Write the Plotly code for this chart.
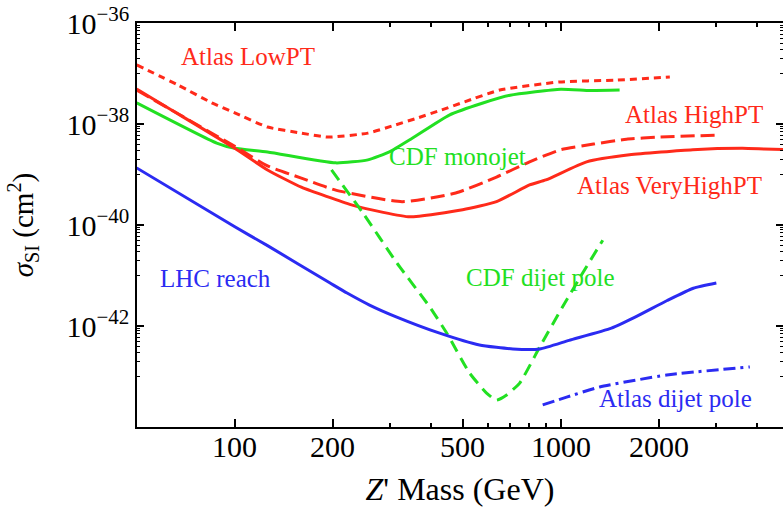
import numpy as np
import plotly.graph_objects as go

RED = "#ff2a1a"
GREEN = "#22e022"
BLUE = "#2b2bf2"
FONT = "'Liberation Serif', 'Times New Roman', serif"

# Z' mass (GeV) and spin-independent cross section (cm^2) for each curve
lowpt_mass = [50, 67, 85, 100, 126, 160, 193, 256, 303, 364, 431, 507, 650, 990, 1480, 2160]
lowpt_sigma = [1.48e-37, 5.9e-38, 2.63e-38, 1.66e-38, 8.7e-39, 6.6e-39, 5.5e-39, 6.6e-39,
               9.1e-39, 1.32e-38, 1.9e-38, 2.75e-38, 4.7e-38, 6.8e-38, 7.4e-38, 8.5e-38]

highpt_mass = [50, 100, 126, 160, 204, 326, 476, 635, 802, 1000, 1260, 1590, 2000, 3000]
highpt_sigma = [4.7e-38, 3.6e-39, 1.48e-39, 8.5e-40, 4.9e-40, 2.9e-40, 4.3e-40, 8.9e-40,
                1.78e-39, 3.1e-39, 4.0e-39, 5.0e-39, 5.5e-39, 6.0e-39]

veryhighpt_mass = [50, 67, 100, 126, 160, 228, 283, 344, 500, 635, 802, 900, 1200, 1625,
                   2540, 3610, 4200, 5000]
veryhighpt_sigma = [4.9e-38, 1.58e-38, 3.3e-39, 1.23e-39, 5.6e-40, 2.5e-40, 1.8e-40, 1.45e-40,
                    2.0e-40, 2.9e-40, 6.2e-40, 7.8e-40, 1.78e-39, 2.45e-39, 3.1e-39, 3.3e-39,
                    3.2e-39, 3.1e-39]

monojet_mass = [50, 88, 100, 126, 204, 256, 298, 350, 455, 577, 699, 1000, 1230, 1515]
monojet_sigma = [2.63e-38, 4.2e-39, 3.3e-39, 2.8e-39, 1.7e-39, 1.95e-39, 2.8e-39, 5.2e-39,
                 1.5e-38, 2.6e-38, 3.7e-38, 4.9e-38, 4.6e-38, 4.7e-38]

cdf_dijet_mass = [198, 247, 314, 396, 447, 525, 592, 635, 682, 748, 861, 1013, 1167, 1345]
cdf_dijet_sigma = [1.23e-39, 1.74e-40, 1.78e-41, 2.4e-42, 7.2e-43, 1.17e-43, 4.7e-44, 3.4e-44,
                   4.3e-44, 7.4e-44, 3.8e-43, 2.4e-42, 1.12e-41, 5.0e-41]

lhc_mass = [50, 100, 126, 196, 221, 259, 314, 425, 563, 713, 862, 1060, 1430, 1690, 2120,
            2550, 3000]
lhc_sigma = [1.35e-39, 9.2e-41, 3.9e-41, 7.1e-42, 4.5e-42, 2.6e-42, 1.5e-42, 7.2e-43, 4.2e-43,
             3.5e-43, 3.5e-43, 5.2e-43, 9.1e-43, 1.5e-42, 3.2e-42, 5.6e-42, 7.1e-42]

atlas_dijet_mass = [880, 1042, 1316, 2113, 3800]
atlas_dijet_sigma = [2.75e-44, 3.9e-44, 6.2e-44, 1.07e-43, 1.55e-43]

# axis ticks
x_major = [100, 200, 500, 1000, 2000]
x_labels = ["100", "200", "500", "1000", "2000"]
x_minor = [300, 400, 600, 700, 800, 900, 3000, 4000]
y_major = [1e-42, 1e-40, 1e-38, 1e-36]
y_labels = ["10<sup>\u221242</sup>", "10<sup>\u221240</sup>",
            "10<sup>\u221238</sup>", "10<sup>\u221236</sup>"]
y_minor = [m * 10.0 ** e for e in (-43, -41, -39, -37) for m in range(1, 10)]

curves = [
    (lowpt_mass, lowpt_sigma, RED, "7px,5px"),
    (monojet_mass, monojet_sigma, GREEN, "solid"),
    (highpt_mass, highpt_sigma, RED, "14px,6px"),
    (veryhighpt_mass, veryhighpt_sigma, RED, "solid"),
    (cdf_dijet_mass, cdf_dijet_sigma, GREEN, "12px,7px"),
    (lhc_mass, lhc_sigma, BLUE, "solid"),
    (atlas_dijet_mass, atlas_dijet_sigma, BLUE, "12px,5px,12px,5px,3px,5px"),
]

fig = go.Figure()
for mass, sigma, color, dash in curves:
    fig.add_trace(go.Scatter(
        x=mass, y=sigma, mode="lines",
        line=dict(color=color, width=3, dash=dash, shape="spline", smoothing=0.5),
        showlegend=False, hoverinfo="skip",
    ))

labels = [
    ("Atlas LowPT", 110, 10 ** -36.67, RED),
    ("Atlas HighPT", 2555, 10 ** -37.82, RED),
    ("Atlas VeryHighPT", 2160, 10 ** -39.21, RED),
    ("CDF monojet", 483, 10 ** -38.65, GREEN),
    ("CDF dijet pole", 868, 10 ** -41.03, GREEN),
    ("LHC reach", 87, 10 ** -41.05, BLUE),
    ("Atlas dijet pole", 2250, 10 ** -43.43, BLUE),
]
for text, xm, ys, color in labels:
    fig.add_annotation(
        x=np.log10(xm), y=np.log10(ys), text=text, showarrow=False,
        xanchor="center", yanchor="middle",
        font=dict(family=FONT, size=25, color=color),
    )

# mass tick labels, set just below the bottom frame
for val, txt in zip(x_major, x_labels):
    fig.add_annotation(
        x=np.log10(val), xref="x", y=0, yref="paper", text=txt, showarrow=False,
        xanchor="center", yanchor="middle", yshift=-19,
        font=dict(family=FONT, size=30, color="black"),
    )

axis_common = dict(
    showline=True, linecolor="black", linewidth=1.5, mirror="ticks",
    ticks="inside", tickcolor="black", tickwidth=1.5,
    showgrid=False, zeroline=False,
    tickfont=dict(family=FONT, size=30, color="black"),
)

fig.update_xaxes(
    type="log", range=[1.7, 1.7 + 646 / 326],
    tickmode="array", tickvals=x_major, ticktext=x_labels, ticklen=8,
    showticklabels=False,
    minor=dict(tickmode="array", tickvals=x_minor, ticklen=4, ticks="inside",
               tickcolor="black", tickwidth=1.5, showgrid=False),
    title=dict(text="<i>Z</i>' Mass (GeV)", font=dict(family=FONT, size=32, color="black"),
               standoff=50),
    **axis_common,
)
fig.update_yaxes(
    type="log", range=[-44, -36],
    tickmode="array", tickvals=y_major, ticktext=y_labels, ticklen=7,
    minor=dict(tickmode="array", tickvals=y_minor, ticklen=3.5, ticks="inside",
               tickcolor="black", tickwidth=1.2, showgrid=False),
    title=dict(text="<i>\u03c3</i><sub>SI</sub> (cm<sup>2</sup>)",
               font=dict(family=FONT, size=29, color="black"), standoff=24),
    **axis_common,
)

fig.update_layout(
    width=783, height=508,
    margin=dict(l=137, r=0, t=23, b=81, autoexpand=False),
    paper_bgcolor="white", plot_bgcolor="white",
    font=dict(family=FONT),
)

fig.write_html("out.html")
